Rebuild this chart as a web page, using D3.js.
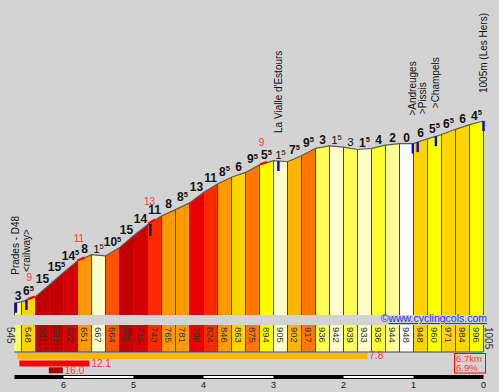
<!DOCTYPE html>
<html>
<head>
<meta charset="utf-8">
<script src="https://cdn.jsdelivr.net/npm/d3@7"></script>
<style>
  html, body { margin: 0; padding: 0; background: #d3d3d3; }
  svg { display: block; }
  text { font-family: "Liberation Sans", Arial, sans-serif; }
</style>
</head>
<body>
<div id="chart"></div>
<script>
// ---------------- DATA ----------------
// segment lengths (km)
const segLen = [0.1, 0.2, 0.2, 0.2, 0.2, 0.2, 0.2, 0.2, 0.2, 0.2, 0.2, 0.2, 0.2, 0.2, 0.2, 0.2, 0.2,
                0.2, 0.2, 0.2, 0.2, 0.2, 0.2, 0.2, 0.2, 0.2, 0.2, 0.2, 0.2, 0.2, 0.2, 0.2, 0.2, 0.2];
// altitudes at segment boundaries (m)
const altitudes = [545, 548, 561, 591, 622, 651, 667, 664, 685, 715, 743, 765, 781, 798, 824, 846, 863, 875,
                   894, 905, 902, 917, 936, 942, 939, 933, 936, 944, 948, 948, 960, 971, 984, 996, 1005];
// gradients per segment (%)
const gradients = [3, 6.5, 15, 15.5, 14.5, 8, -1.5, 10.5, 15, 14, 11, 8, 8.5, 13, 11, 8.5, 6, 9.5, 5.5, -1.5,
                   7.5, 9.5, 3, -1.5, -3, 1.5, 4, 2, 0, 6, 5.5, 6.5, 6, 4.5];
// named places
const placeNames = ["Prades - D48", "<railway>", "La Vialle d'Estours", ">Andreuges", ">Pissis", ">Champels", "1005m (Les Hers)"];
const placeKm = [0.02, 0.17, 3.77, 5.69, 5.76, 6.02, 6.7];
// other marker (no name)
const otherMarkKm = [1.94];
// steepest 100 m spots
const steepKm = [0.19, 0.9, 1.91, 3.51];
const steepVal = [9, 11, 13, 9];
// best sections: 5 km, 1 km, 200 m
const bestStartKm = [0.04, 0.07, 0.49];
const bestLenKm = [5, 1, 0.2];
const bestVal = [7.8, 12.1, 16.0];
// km-to-go ticks
const kmToGo = [6, 5, 4, 3, 2, 1, 0];
const totalKm = 6.7;
const avgGrade = 6.9;

// ---------------- SETUP ----------------
const W = 499, H = 392;
const svg = d3.select("#chart").append("svg").attr("width", W).attr("height", H);
svg.append("rect").attr("width", W).attr("height", H).attr("fill", "#d3d3d3");

const x = d3.scaleLinear().domain([0, totalKm]).range([14.5, 483.5]);
const y = d3.scaleLinear().domain([545, 1005]).range([303, 121]);
const kmMarks = [0, ...d3.cumsum(segLen)];
const altAt = d3.scaleLinear().domain(kmMarks).range(altitudes);

const color = d3.scaleThreshold()
  .domain([0.5, 1.75, 2.5, 3.5, 4.25, 5.75, 7, 8, 9, 10, 10.75, 12, 12.5, 13.5, 14.75, 15.75])
  .range(["#ffffff", "#ffffcc", "#ffff99", "#ffff55", "#ffff33", "#ffff00", "#ffd400", "#ffb400",
          "#ff9900", "#ff7700", "#ff5500", "#ff2b00", "#ff0000", "#e60000", "#d20000", "#c00000", "#a80000"]);

const baseY = 315;
const rowTop = 325, rowBot = 352;

// ---------------- PROFILE CELLS ----------------
const segs = gradients.map((g, i) => ({
  g, i,
  k0: kmMarks[i], k1: kmMarks[i + 1],
  a0: altitudes[i], a1: altitudes[i + 1]
}));

const gCells = svg.append("g");
gCells.selectAll("path.cell").data(segs).join("path")
  .attr("d", d => `M${x(d.k0)},${baseY}L${x(d.k0)},${y(d.a0)}L${x(d.k1)},${y(d.a1)}L${x(d.k1)},${baseY}Z`)
  .attr("fill", d => color(Math.abs(d.g)));

// vertical separators
gCells.selectAll("line.sep").data(kmMarks).join("line")
  .attr("x1", k => x(k)).attr("x2", k => x(k))
  .attr("y1", (k, i) => y(altitudes[i])).attr("y2", baseY)
  .attr("stroke", "#444").attr("stroke-width", 1);

// profile top line
svg.append("path")
  .attr("d", d3.line().x((a, i) => x(kmMarks[i])).y(a => y(a))(altitudes))
  .attr("fill", "none").attr("stroke", "#5a5a5a").attr("stroke-width", 1.2);

// steep highlights (red)
steepKm.forEach((k, i) => {
  const pts = [k, k + 0.05, k + 0.1].map(kk => [x(kk), y(altAt(kk)) - 0.5]);
  svg.append("path").attr("d", d3.line()(pts))
    .attr("fill", "none").attr("stroke", "#ff0000").attr("stroke-width", 2.2);
  svg.append("text")
    .attr("x", x(k + 0.02)).attr("y", y(altAt(k + 0.03)) - 18)
    .attr("text-anchor", "middle").attr("font-size", 10)
    .attr("fill", "#ff3333").text(steepVal[i]);
});

// ---------------- GRADIENT LABELS ----------------
const gLab = svg.append("g");
segs.forEach(d => {
  const a = Math.abs(d.g);
  const whole = Math.floor(a);
  const half = a - whole > 0.01;
  const up = d.g >= 0;
  const t = gLab.append("text")
    .attr("x", (x(d.k0) + x(d.k1)) / 2)
    .attr("y", y(Math.max(d.a0, d.a1)) - 1.5)
    .attr("text-anchor", "middle")
    .attr("fill", "#111")
    .attr("font-weight", up ? "bold" : "normal");
  t.append("tspan").attr("font-size", up ? 12 : 11.5).text(whole);
  if (half) t.append("tspan").attr("font-size", 7.5).attr("dy", -4.5).text("5");
});

// ---------------- MARKERS & PLACE NAMES ----------------
placeKm.forEach(k => {
  svg.append("rect").attr("x", x(k) - 1.2).attr("y", y(altAt(k))).attr("width", 2.4).attr("height", 10)
    .attr("fill", "#0000ff");
});
otherMarkKm.forEach(k => {
  svg.append("rect").attr("x", x(k) - 1.2).attr("y", y(altAt(k)) + 1).attr("width", 2.4).attr("height", 12)
    .attr("fill", "#111");
});

let prevX = -100;
placeNames.forEach((name, i) => {
  const k = placeKm[i];
  let lx = x(k);
  if (lx < prevX + 9.5) lx = prevX + 9.5;
  prevX = lx;
  const by = y(altAt(k)) - 28;
  svg.append("text")
    .attr("transform", `translate(${lx},${by}) rotate(-90)`)
    .attr("dy", "0.35em")
    .attr("font-size", 10).attr("fill", "#111")
    .text(name);
});

// ---------------- COPYRIGHT ----------------
const cp = svg.append("text").attr("x", 487).attr("y", 322).attr("text-anchor", "end")
  .attr("font-size", 10.5).attr("fill", "#2a2aff");
cp.append("tspan").text("©");
cp.append("tspan").attr("text-decoration", "underline").text("www.cyclingcols.com");

// ---------------- ALTITUDE ROW ----------------
const gRow = svg.append("g");
gRow.selectAll("rect").data(segs).join("rect")
  .attr("x", d => x(d.k0)).attr("y", rowTop)
  .attr("width", d => x(d.k1) - x(d.k0)).attr("height", rowBot - rowTop)
  .attr("fill", d => color(Math.abs(d.g)));
gRow.selectAll("line.v").data(kmMarks.slice(1)).join("line")
  .attr("x1", k => x(k)).attr("x2", k => x(k))
  .attr("y1", rowTop).attr("y2", rowBot)
  .attr("stroke", "#444");
gRow.append("line").attr("x1", x(0)).attr("x2", x(totalKm)).attr("y1", rowBot).attr("y2", rowBot)
  .attr("stroke", "#444");

// altitude labels inside cells (skip the short first cell)
segs.slice(1).forEach(d => {
  gRow.append("text")
    .attr("transform", `translate(${(x(d.k0) + x(d.k1)) / 2},${rowTop + 2}) rotate(90)`)
    .attr("dy", "0.35em").attr("font-size", 9.5).attr("fill", "#333")
    .text(d.a0);
});
// start and end altitude labels
[[0, altitudes[0], -4.5], [totalKm, altitudes[altitudes.length - 1], 5]].forEach(([k, a, off]) => {
  gRow.append("text")
    .attr("transform", `translate(${x(k) + off},${rowTop + 2}) rotate(90)`)
    .attr("dy", "0.35em").attr("font-size", 10).attr("fill", "#333")
    .text(a);
});

// ---------------- BEST SECTION BARS ----------------
const barY = [353, 360.5, 367.3];
bestVal.forEach((v, i) => {
  const x0 = x(bestStartKm[i]), x1 = x(bestStartKm[i] + bestLenKm[i]);
  svg.append("rect").attr("x", x0).attr("y", barY[i]).attr("width", x1 - x0).attr("height", 6)
    .attr("fill", color(v));
  svg.append("text").attr("x", x1 + 2).attr("y", barY[i] + 6.3)
    .attr("font-size", 10).attr("fill", "#ff3333").text(v.toFixed(1));
});

// summary box
svg.append("rect").attr("x", 454.5).attr("y", 353.5).attr("width", 31).attr("height", 19.5)
  .attr("fill", "none").attr("stroke", "#ff0000").attr("stroke-width", 1);
svg.append("text").attr("x", 456).attr("y", 362.3).attr("font-size", 9.5).attr("fill", "#ff3333")
  .text(totalKm + "km");
svg.append("text").attr("x", 456).attr("y", 371.3).attr("font-size", 9.5).attr("fill", "#ff3333")
  .text(avgGrade + "%");

// ---------------- KM SCALE ----------------
svg.append("rect").attr("x", x(0)).attr("y", 375).attr("width", x(totalKm) - x(0)).attr("height", 4)
  .attr("fill", "#000");
for (let r = 6; r >= 1; r -= 2) {
  const k0 = totalKm - r, k1 = totalKm - (r - 1);
  svg.append("rect").attr("x", x(k0)).attr("y", 376).attr("width", x(k1) - x(k0)).attr("height", 2)
    .attr("fill", "#fff");
}
svg.selectAll("text.km").data(kmToGo).join("text")
  .attr("x", r => x(totalKm - r)).attr("y", 387.5)
  .attr("text-anchor", "middle").attr("font-size", 9).attr("fill", "#111")
  .text(r => r);
</script>
</body>
</html>
